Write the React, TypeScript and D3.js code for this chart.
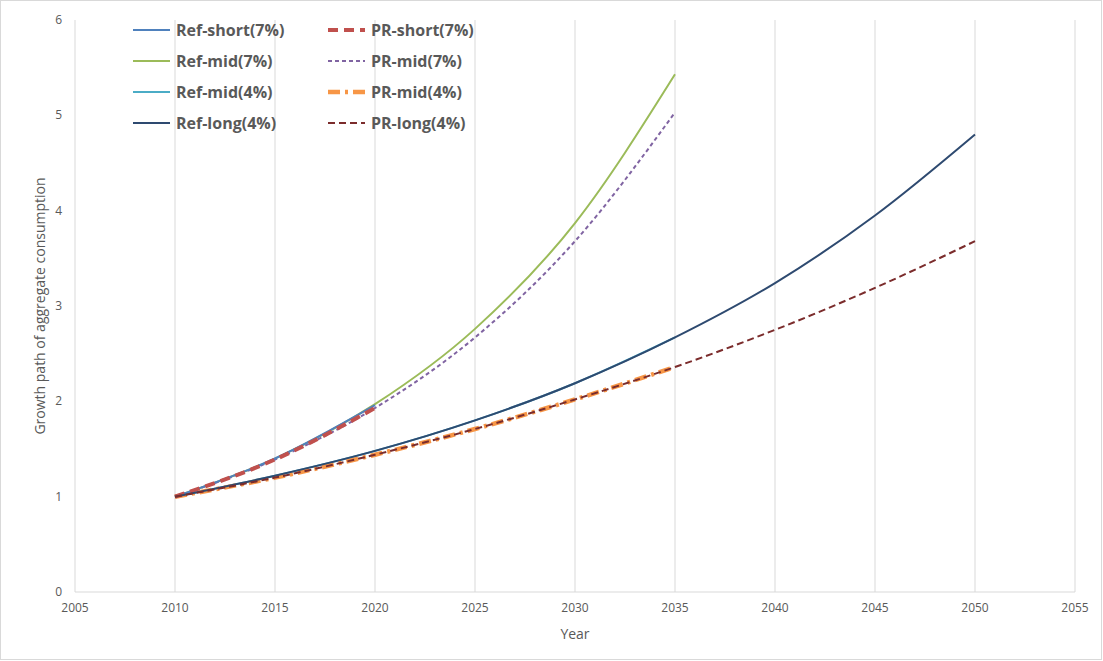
import React from 'react'
import * as d3 from 'd3'

const years5 = [2010, 2015, 2020, 2025, 2030, 2035, 2040, 2045, 2050]
const refShort7 = [1, 1.4, 1.96]
const prShort7 = [1, 1.39, 1.93]
const refMid7 = [1, 1.4, 1.97, 2.76, 3.87, 5.43]
const prMid7 = [1, 1.39, 1.93, 2.67, 3.68, 5.03]
const refMid4 = [1, 1.22, 1.48, 1.8, 2.19, 2.67]
const prMid4 = [1, 1.2, 1.44, 1.71, 2.02, 2.36]
const refLong4 = [1, 1.22, 1.48, 1.8, 2.19, 2.67, 3.24, 3.95, 4.8]
const prLong4 = [1, 1.2, 1.44, 1.71, 2.02, 2.36, 2.75, 3.19, 3.68]
const xTicks = d3.range(2005, 2056, 5)
const yTicks = d3.range(0, 7)

// drawing order: bottom first
const series = [
  { name: 'Ref-mid(4%)', vals: refMid4, color: '#4bacc6', width: 2, dash: '' },
  { name: 'PR-mid(4%)', vals: prMid4, color: '#f79646', width: 4.5, dash: '12,5,3,5' },
  { name: 'Ref-mid(7%)', vals: refMid7, color: '#9bbb59', width: 2, dash: '' },
  { name: 'PR-mid(7%)', vals: prMid7, color: '#8064a2', width: 2, dash: '4,3' },
  { name: 'Ref-short(7%)', vals: refShort7, color: '#4f81bd', width: 2, dash: '' },
  { name: 'PR-short(7%)', vals: prShort7, color: '#c0504d', width: 4, dash: '10,6' },
  { name: 'Ref-long(4%)', vals: refLong4, color: '#2e4a70', width: 2, dash: '' },
  { name: 'PR-long(4%)', vals: prLong4, color: '#7b2c2c', width: 2, dash: '7,4' },
]
const legendOrder = [
  ['Ref-short(7%)', 'PR-short(7%)'],
  ['Ref-mid(7%)', 'PR-mid(7%)'],
  ['Ref-mid(4%)', 'PR-mid(4%)'],
  ['Ref-long(4%)', 'PR-long(4%)'],
]

export default () => {
  const x = d3.scaleLinear().domain([2005, 2055]).range([75, 1075])
  const y = d3.scaleLinear().domain([0, 6]).range([592, 20])
  const line = d3
    .line<number>()
    .x((_, i) => x(years5[i]))
    .y((v) => y(v))
    .curve(d3.curveMonotoneX)
  const font = '"Open Sans", "Liberation Sans", Arial, sans-serif'
  const find = (n: string) => series.find((s) => s.name === n)!

  return (
    <svg width={1103} height={661} style={{ position: 'absolute', left: 0, top: 0, fontFamily: font }}>
      <rect x={0.5} y={0.5} width={1101} height={659} fill="#fff" stroke="#d9d9d9" />
      {xTicks.map((t) => (
        <line key={t} x1={x(t)} x2={x(t)} y1={y(6)} y2={y(0)} stroke="#d9d9d9" />
      ))}
      <line x1={x(2005)} x2={x(2055)} y1={y(0)} y2={y(0)} stroke="#d9d9d9" />
      {xTicks.map((t) => (
        <text key={t} x={x(t)} y={612} textAnchor="middle" fontSize={12} fill="#595959">
          {t}
        </text>
      ))}
      {yTicks.map((t) => (
        <text key={t} x={62} y={y(t) + 4} textAnchor="end" fontSize={12} fill="#595959">
          {t}
        </text>
      ))}
      <text x={575} y={639} textAnchor="middle" fontSize={14} fill="#595959">
        Year
      </text>
      <text transform={`translate(45,${y(3)}) rotate(-90)`} textAnchor="middle" fontSize={14} fill="#595959">
        Growth path of aggregate consumption
      </text>
      {series.map((s) => (
        <path key={s.name} d={line(s.vals) as string} fill="none" stroke={s.color} strokeWidth={s.width} strokeDasharray={s.dash} />
      ))}
      {legendOrder.map((row, ri) =>
        row.map((n, ci) => {
          const s = find(n)
          const lx = ci === 0 ? 133 : 328
          const ly = 30 + ri * 31
          return (
            <g key={n}>
              <line x1={lx} x2={lx + 37} y1={ly} y2={ly} stroke={s.color} strokeWidth={s.width} strokeDasharray={s.dash} />
              <text x={lx + 43} y={ly + 6} fontSize={16} fontWeight="bold" fill="#595959">
                {n}
              </text>
            </g>
          )
        })
      )}
    </svg>
  )
}
